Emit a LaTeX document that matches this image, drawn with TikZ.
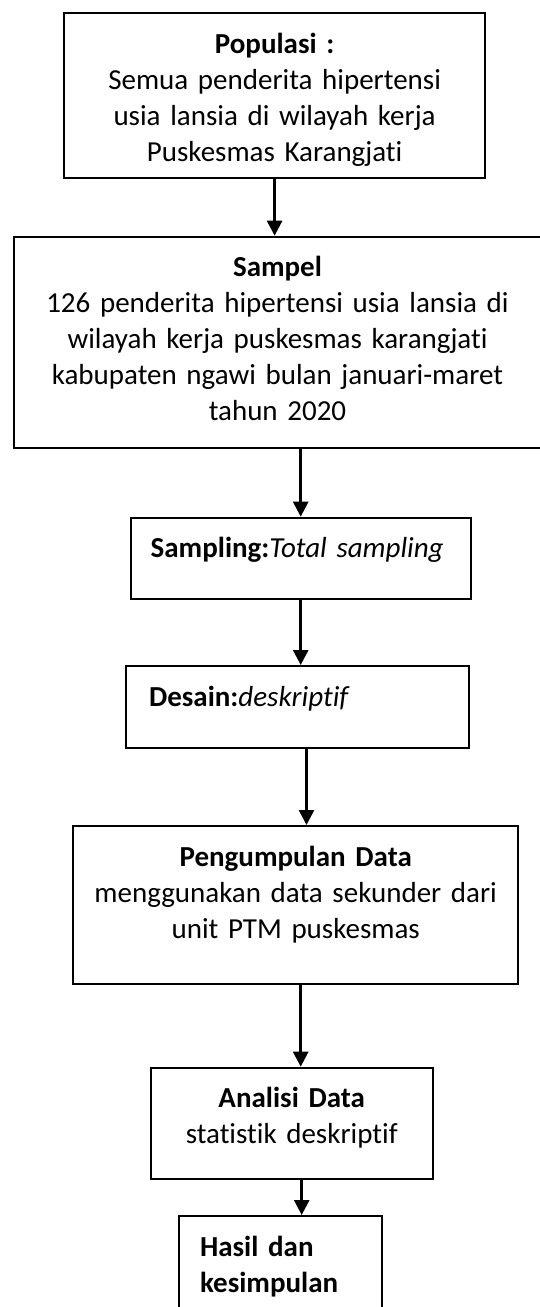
\documentclass[tikz,border=0pt]{standalone}
\usepackage{fontspec}
\setmainfont{Carlito}[Ligatures=NoCommon]
\usepackage{tikz}
\usetikzlibrary{arrows.meta}
\tikzstyle{kotak}=[draw, line width=2.2pt, inner xsep=6pt, inner ysep=0pt, anchor=north, text height=40pt, font=\fontsize{29}{36}\selectfont]
\tikzstyle{panah}=[line width=2.6pt, -{Triangle[length=15pt,width=15pt]}]

\begin{document}
\begin{tikzpicture}[x=1pt,y=-1pt]
\useasboundingbox (0,0) rectangle (539,1307);
\node[kotak, text width=408.7pt, text depth=125pt, align=center] (pop) at (274.6,12) {\textbf{Populasi :}\\ Semua penderita hipertensi\\ usia lansia di wilayah kerja\\ Puskesmas Karangjati};
\node[kotak, text width=515pt, text depth=171.3pt, align=center] (sam) at (277.5,235.7) {\textbf{Sampel}\\ 126 penderita hipertensi usia lansia di\\ wilayah kerja puskesmas karangjati\\ kabupaten ngawi bulan januari-maret\\ tahun 2020};
\node[kotak, inner xsep=20pt, text width=300pt, text depth=41.3pt, align=left] (smp) at (300.7,516.7) {\textbf{Sampling:}\textit{Total sampling}};
\node[kotak, inner xsep=23pt, text width=297pt, text depth=41.7pt, align=left] (des) at (297.5,665) {\textbf{Desain:}\textit{deskriptif}};
\node[kotak, text width=432.7pt, text depth=118pt, align=center] (pgd) at (295.7,825) {\textbf{Pengumpulan Data}\\ menggunakan data sekunder dari\\ unit PTM puskesmas};
\node[kotak, text width=270pt, text depth=71.3pt, align=center] (ana) at (291.7,1066.7) {\textbf{Analisi Data}\\ statistik deskriptif};
\node[kotak, inner xsep=21pt, text width=160.7pt, text depth=90pt, align=left] (has) at (280.4,1215) {\textbf{Hasil dan}\\ \textbf{kesimpulan}};
% panah
\draw[panah] (pop.south) -- (pop.south |- sam.north);
\draw[panah] (sam.south -| smp.north) -- (smp.north);
\draw[panah] (smp.south) -- (smp.south |- des.north);
\draw[panah] ([xshift=9pt]des.south) -- ([xshift=9pt]des.south |- pgd.north);
\draw[panah] ([xshift=9pt]ana.north |- pgd.south) -- ([xshift=9pt]ana.north);
\draw[panah] ([xshift=10pt]ana.south) -- ([xshift=10pt]ana.south |- has.north);
\end{tikzpicture}
\end{document}
